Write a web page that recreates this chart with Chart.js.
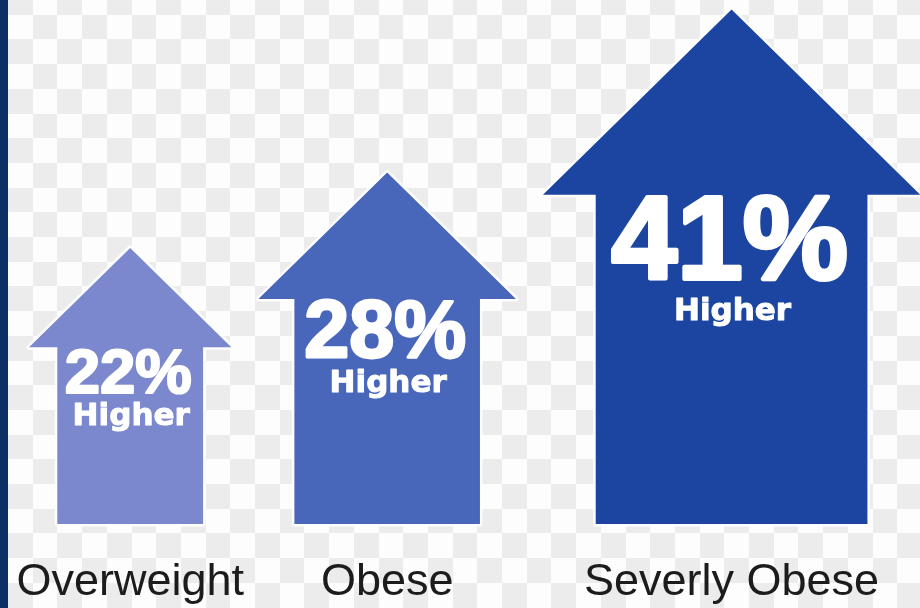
<!DOCTYPE html>
<html>
<head>
<meta charset="utf-8">
<title>Higher by weight category</title>
<script src="https://cdn.jsdelivr.net/npm/chart.js@4.4.1/dist/chart.umd.min.js"></script>
<style>
  html, body { margin: 0; padding: 0; background: #fff; }
  #wrap { position: relative; width: 920px; height: 608px; }
</style>
</head>
<body>
<div id="wrap"><canvas id="arrowChart"></canvas></div>
<script>
const categories = ["Overweight", "Obese", "Severly Obese"];
const increases = [22, 28, 41];
const valueLabels = ["22%", "28%", "41%"];
const subLabel = "Higher";

const arrowColors = ["#7b88cd", "#4866ba", "#1b45a0"];
// arrow shape, as a share of its height
const HEAD_W = 0.733, BODY_W = 0.528, HEAD_H = 0.36;
const GAP = 2.15;

// arrows stand side by side, each slot as wide as its own head
const xCenters = [];
let run = 0;
increases.forEach((v) => {
  xCenters.push(run + v * HEAD_W / 2);
  run += v * HEAD_W + GAP;
});

const backdrop = {
  id: "backdrop",
  beforeDraw(chart) {
    const ctx = chart.ctx, w = chart.width, h = chart.height;
    const s = 24.7;
    ctx.save();
    ctx.fillStyle = "#fdfdfd";
    ctx.fillRect(0, 0, w, h);
    ctx.fillStyle = "#ececec";
    for (let r = 0; r * s - 10 < h; r++) {
      for (let c = 0; c * s + 8 < w; c++) {
        if ((r + c) % 2 === 0) {
          const x0 = Math.round(8 + c * s), y0 = Math.round(-10 + r * s);
          ctx.fillRect(x0, y0, Math.round(8 + (c + 1) * s) - x0, Math.round(-10 + (r + 1) * s) - y0);
        }
      }
    }
    ctx.fillStyle = "#0c2f66";
    ctx.fillRect(0, 0, 8, h);
    ctx.restore();
  }
};

const arrows = {
  id: "arrows",
  afterDatasetsDraw(chart) {
    const ctx = chart.ctx;
    chart.getDatasetMeta(0).data.forEach((bar, i) => {
      const cx = bar.x, tip = bar.y, base = bar.base;
      const h = base - tip;
      const neck = tip + h * HEAD_H;
      const hw = h * HEAD_W / 2, bw = h * BODY_W / 2;
      ctx.save();
      ctx.beginPath();
      ctx.moveTo(cx, tip);
      ctx.lineTo(cx + hw, neck);
      ctx.lineTo(cx + bw, neck);
      ctx.lineTo(cx + bw, base);
      ctx.lineTo(cx - bw, base);
      ctx.lineTo(cx - bw, neck);
      ctx.lineTo(cx - hw, neck);
      ctx.closePath();
      ctx.lineJoin = "round";
      ctx.strokeStyle = "rgba(255,255,255,0.9)";
      ctx.lineWidth = 5;
      ctx.stroke();
      ctx.fillStyle = arrowColors[i];
      ctx.fill();

      // heavy white text, stroked a little to thicken it
      ctx.fillStyle = "#ffffff";
      ctx.strokeStyle = "#ffffff";
      ctx.textAlign = "center";
      ctx.textBaseline = "alphabetic";
      const big = h * 0.23;
      ctx.font = "bold " + big + "px 'Liberation Sans', Arial, sans-serif";
      const pctBase = neck + big * 0.716;
      ctx.lineWidth = big * 0.035;
      ctx.fillText(valueLabels[i], cx - 2, pctBase);
      ctx.strokeText(valueLabels[i], cx - 2, pctBase);
      ctx.font = "bold 31px 'DejaVu Sans', sans-serif";
      ctx.lineWidth = 1;
      const subBase = pctBase + h * 0.035 + 23;
      ctx.fillText(subLabel, cx + 1, subBase);
      ctx.strokeText(subLabel, cx + 1, subBase);
      ctx.restore();
    });
  }
};

const ctx = document.getElementById("arrowChart").getContext("2d");
const arrowChart = new Chart(ctx, {
  type: "bar",
  data: {
    datasets: [
      {
        label: "Higher",
        data: increases.map((v, i) => ({ x: xCenters[i], y: v })),
        backgroundColor: "rgba(0,0,0,0)",
        borderWidth: 0,
      },
    ],
  },
  options: {
    responsive: true,
    maintainAspectRatio: false,
    animation: false,
    layout: { padding: 0 },
    plugins: {
      legend: { display: false },
      tooltip: { enabled: false },
    },
    scales: {
      x: {
        type: "linear",
        offset: false,
        min: -2.31,
        max: 70.99,
        grid: { display: false, drawTicks: false, offset: false },
        border: { display: false },
        afterBuildTicks: (scale) => {
          scale.ticks = xCenters.map((v) => ({ value: v }));
        },
        afterFit: (scale) => {
          scale.height = 84;
          scale.paddingLeft = 0;
          scale.paddingRight = 0;
        },
        ticks: {
          autoSkip: false,
          maxRotation: 0,
          padding: 36,
          color: "#1c1c1c",
          font: { family: "'Liberation Sans', Arial, sans-serif", size: 45, lineHeight: 1 },
          callback: (value, index) => categories[index],
        },
      },
      y: { display: false, min: 0, max: 41.75 },
    },
  },
  plugins: [backdrop, arrows],
});
</script>
</body>
</html>
